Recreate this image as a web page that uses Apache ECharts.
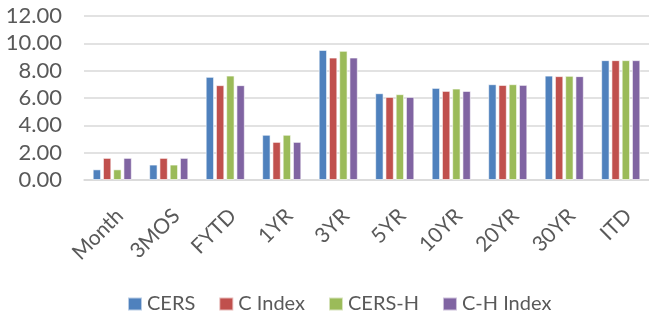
<!DOCTYPE html>
<html>
<head>
<meta charset="utf-8">
<script src="https://cdn.jsdelivr.net/npm/echarts@6/dist/echarts.min.js"></script>
<style>
  html, body { margin: 0; padding: 0; background: #fff; }
  #main { width: 649px; height: 315px; }
</style>
</head>
<body>
<div id="main"></div>
<script>
// periods on the x axis
var periods = ['Month', '3MOS', 'FYTD', '1YR', '3YR', '5YR', '10YR', '20YR', '30YR', 'ITD'];
// returns
var cers   = [0.78, 1.13, 7.55, 3.31, 9.52, 6.35, 6.74, 7.01, 7.64, 8.77];
var cIndex = [1.62, 1.62, 6.94, 2.79, 8.96, 6.08, 6.52, 6.96, 7.60, 8.77];
var cersH  = [0.78, 1.13, 7.64, 3.31, 9.45, 6.28, 6.69, 7.01, 7.62, 8.77];
var chIndex= [1.62, 1.62, 6.94, 2.79, 8.96, 6.08, 6.52, 6.96, 7.60, 8.77];

var seriesNames = ['CERS', 'C Index', 'CERS-H', 'C-H Index'];
var colors = ['#4F81BD', '#C0504D', '#9BBB59', '#8064A2'];
var font = 'Lato';

var chart = echarts.init(document.getElementById('main'), null, { renderer: 'canvas' });

function makeBar(name, data, i) {
  return {
    name: name,
    type: 'bar',
    data: data,
    barWidth: 8.4,
    barGap: '22%',
    itemStyle: {
      color: colors[i],
      borderColor: 'rgba(255,255,255,0.6)',
      borderWidth: 1
    }
  };
}

var option = {
  backgroundColor: '#ffffff',
  animation: false,
  color: colors,
  grid: { left: 84, right: -2, top: 16, bottom: 135 },
  legend: {
    data: seriesNames,
    left: 122,
    top: 289,
    itemWidth: 14,
    itemHeight: 13,
    itemGap: 23,
    icon: 'rect',
    textStyle: { fontFamily: font, fontSize: 20, color: '#595959' }
  },
  xAxis: {
    type: 'category',
    data: periods,
    axisLine: { lineStyle: { color: '#D9D9D9', width: 1.5 } },
    axisTick: { show: false },
    axisLabel: {
      rotate: 45,
      interval: 0,
      margin: 25,
      verticalAlign: 'top',
      fontFamily: font,
      fontSize: 21,
      color: '#595959'
    }
  },
  yAxis: {
    type: 'value',
    min: 0,
    max: 12,
    interval: 2,
    axisLine: { show: false },
    axisTick: { show: false },
    splitLine: { lineStyle: { color: '#D9D9D9', width: 1.5 } },
    axisLabel: {
      margin: 22,
      fontFamily: font,
      fontSize: 22,
      color: '#595959',
      formatter: function (v) { return v.toFixed(2); }
    }
  },
  series: [
    makeBar(seriesNames[0], cers, 0),
    makeBar(seriesNames[1], cIndex, 1),
    makeBar(seriesNames[2], cersH, 2),
    makeBar(seriesNames[3], chIndex, 3)
  ]
};

chart.setOption(option);
</script>
</body>
</html>
